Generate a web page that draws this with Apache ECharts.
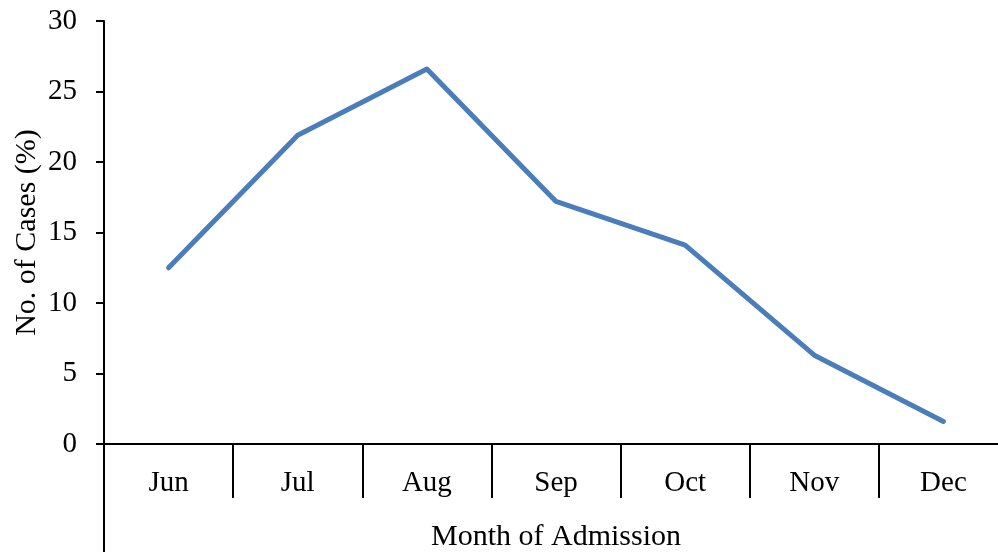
<!DOCTYPE html>
<html>
<head>
<meta charset="utf-8">
<script src="https://cdn.jsdelivr.net/npm/echarts@6/dist/echarts.min.js"></script>
<style>html,body{margin:0;padding:0;background:#fff}#c{width:998px;height:552px}</style>
</head>
<body>
<div id="c"></div>
<script>
var categories = ['Jun', 'Jul', 'Aug', 'Sep', 'Oct', 'Nov', 'Dec'];
var cases = [12.5, 21.9, 26.6, 17.2, 14.1, 6.3, 1.6];
var yTicks = [0, 5, 10, 15, 20, 25, 30];

var FONT = 'Liberation Serif';
var chart = echarts.init(document.getElementById('c'));
chart.setOption({
  animation: false,
  backgroundColor: '#ffffff',
  grid: { left: 104, top: 21, right: -10, bottom: 108, containLabel: false, outerBoundsMode: 'none' },
  xAxis: {
    type: 'category',
    data: categories,
    boundaryGap: true,
    name: 'Month of Admission',
    nameLocation: 'middle',
    nameGap: 78,
    nameMoveOverlap: false,
    nameTextStyle: { fontFamily: FONT, fontSize: 30, color: '#000' },
    axisLine: { lineStyle: { color: '#000', width: 2 } },
    axisTick: { show: true, length: 54, lineStyle: { color: '#000', width: 2 } },
    axisLabel: { margin: 25, fontFamily: FONT, fontSize: 29, color: '#000' },
    splitLine: { show: false }
  },
  yAxis: {
    type: 'value',
    min: yTicks[0],
    max: yTicks[yTicks.length - 1],
    interval: 5,
    name: 'No. of Cases (%)',
    nameLocation: 'middle',
    nameGap: 62,
    nameMoveOverlap: false,
    nameTextStyle: { fontFamily: FONT, fontSize: 30, color: '#000' },
    axisLine: { show: true, lineStyle: { color: '#000', width: 2 } },
    axisTick: { show: true, length: 8, lineStyle: { color: '#000', width: 2 } },
    axisLabel: { margin: 27, fontFamily: FONT, fontSize: 29, color: '#000' },
    splitLine: { show: false }
  },
  series: [{
    type: 'line',
    data: cases,
    symbol: 'none',
    lineStyle: { color: '#4A7EBB', width: 5, cap: 'round', join: 'round' }
  }],
  graphic: [{
    type: 'line',
    shape: { x1: 104, y1: 444, x2: 104, y2: 552 },
    style: { stroke: '#000', lineWidth: 2 }
  }]
});
</script>
</body>
</html>
